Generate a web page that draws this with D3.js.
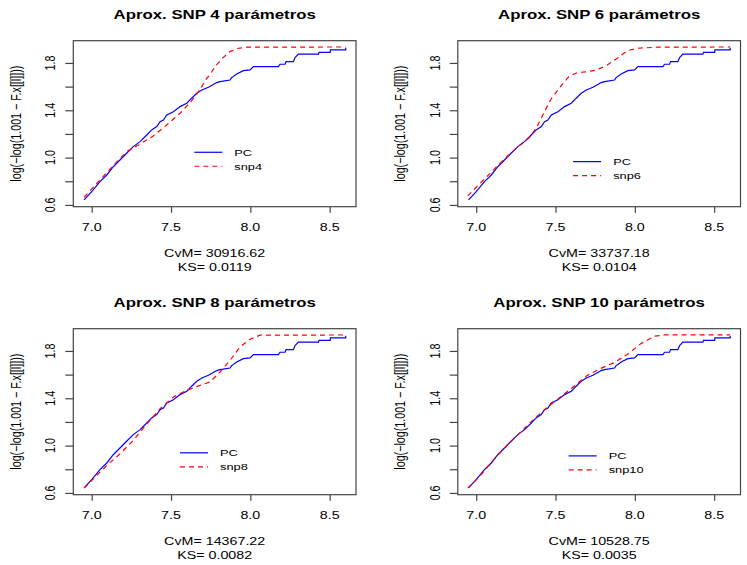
<!DOCTYPE html>
<html>
<head>
<meta charset="utf-8">
<script src="https://cdn.jsdelivr.net/npm/d3@7"></script>
<style>
  html, body { margin: 0; padding: 0; background: #fff; }
  svg text { font-family: "Liberation Sans", Arial, Helvetica, sans-serif; fill: #000; }
</style>
</head>
<body>
<svg id="chart" width="747" height="565"></svg>
<script>
// Empirical curve (PC), shared by all four panels: [x, log(-log(1.001 - F))]
const pcCurve = [
  [6.952, 0.642], [7.000, 0.712], [7.052, 0.797], [7.095, 0.853], [7.136, 0.923],
  [7.178, 0.980], [7.220, 1.037], [7.262, 1.093], [7.305, 1.135], [7.347, 1.191],
  [7.378, 1.234], [7.410, 1.262], [7.431, 1.304], [7.452, 1.318], [7.473, 1.360],
  [7.515, 1.388], [7.557, 1.431], [7.599, 1.459], [7.630, 1.502], [7.662, 1.544],
  [7.694, 1.572], [7.736, 1.595], [7.788, 1.634], [7.809, 1.642], [7.872, 1.656],
  [7.882, 1.676], [7.914, 1.707], [7.956, 1.735], [7.998, 1.741], [8.019, 1.769],
  [8.177, 1.769], [8.187, 1.789], [8.219, 1.789], [8.225, 1.811], [8.271, 1.811],
  [8.282, 1.845], [8.303, 1.874], [8.429, 1.874], [8.433, 1.890], [8.503, 1.890],
  [8.505, 1.910], [8.601, 1.910], [8.601, 1.929]
];

// SNP approximations with 4, 6, 8 and 10 parameters
const snp4Curve = [
  [6.952, 0.665], [7.052, 0.811], [7.136, 0.932], [7.220, 1.050], [7.305, 1.115],
  [7.388, 1.183], [7.473, 1.276], [7.557, 1.375], [7.620, 1.465], [7.683, 1.575],
  [7.725, 1.671], [7.746, 1.699], [7.777, 1.769], [7.820, 1.835], [7.872, 1.896],
  [7.925, 1.924], [7.977, 1.933], [8.600, 1.935]
];
const snp6Curve = [
  [6.947, 0.676], [7.025, 0.783], [7.109, 0.896], [7.193, 1.008], [7.278, 1.107],
  [7.341, 1.177], [7.383, 1.261], [7.425, 1.375], [7.468, 1.487], [7.531, 1.600],
  [7.583, 1.684], [7.636, 1.718], [7.699, 1.726], [7.762, 1.741], [7.826, 1.783],
  [7.889, 1.840], [7.952, 1.904], [8.015, 1.924], [8.140, 1.933], [8.600, 1.935]
];
const snp8Curve = [
  [6.952, 0.640], [7.010, 0.719], [7.095, 0.832], [7.178, 0.930], [7.262, 1.044],
  [7.347, 1.184], [7.431, 1.311], [7.515, 1.410], [7.599, 1.467], [7.683, 1.509],
  [7.746, 1.538], [7.809, 1.622], [7.872, 1.721], [7.935, 1.834], [7.998, 1.899],
  [8.061, 1.933], [8.600, 1.935]
];
const snp10Curve = [
  [6.947, 0.640], [7.025, 0.745], [7.109, 0.880], [7.193, 1.000], [7.278, 1.112],
  [7.362, 1.222], [7.446, 1.322], [7.531, 1.410], [7.615, 1.500], [7.699, 1.592],
  [7.784, 1.652], [7.868, 1.700], [7.952, 1.770], [8.037, 1.860], [8.121, 1.924],
  [8.185, 1.935], [8.600, 1.935]
];

const panelTitles = ["Aprox. SNP 4 parámetros", "Aprox. SNP 6 parámetros",
                     "Aprox. SNP 8 parámetros", "Aprox. SNP 10 parámetros"];
const seriesNames = ["snp4", "snp6", "snp8", "snp10"];
const cvmValues = ["30916.62", "33737.18", "14367.22", "10528.75"];
const ksValues = ["0.0119", "0.0104", "0.0082", "0.0035"];
const yAxisTitle = "log(\u2212log(1.001 \u2212 F.x[[l]]))";

const xTickValues = [7.0, 7.5, 8.0, 8.5];
const xTickLabels = ["7.0", "7.5", "8.0", "8.5"];
const yTickValues = [0.6, 0.8, 1.0, 1.2, 1.4, 1.6, 1.8];
const yTickLabels = ["0.6", "", "1.0", "", "1.4", "", "1.8"];

const snpCurves = [snp4Curve, snp6Curve, snp8Curve, snp10Curve];

// ---- layout ----
const SX = 1.334;               // horizontal stretch of the device
const panelOrigins = [[0, 0], [384.5, 0], [0, 288], [384.5, 288]];
const box = { left: 73.3, top: 40.7, width: 282.7, height: 166 };
const legendAt = [[7.647, 1.045], [7.611, 0.966], [7.557, 0.939], [7.583, 0.913]];
const FS = 10.7, TITLE_FS = 12.6, LEGEND_FS = 9.6;

const svg = d3.select("#chart");

function stretchedText(g, x, y, str, opts = {}) {
  const rot = opts.rotate ? " rotate(-90)" : "";
  return g.append("text")
    .attr("transform", `translate(${x},${y}) scale(${SX},1)${rot}`)
    .attr("text-anchor", opts.anchor || "middle")
    .attr("font-size", opts.size || FS)
    .attr("font-weight", opts.bold ? "bold" : "normal")
    .attr("dominant-baseline", opts.baseline || "alphabetic")
    .text(str);
}

panelTitles.forEach((title, i) => {
  const [ox, oy] = panelOrigins[i];
  const g = svg.append("g").attr("transform", `translate(${ox},${oy})`);

  const x = d3.scaleLinear().domain([6.884, 8.666])
    .range([box.left, box.left + box.width]);
  const y = d3.scaleLinear().domain([0.585, 1.988])
    .range([box.top + box.height, box.top]);

  // tick marks
  const xAxis = g.append("g")
    .attr("transform", `translate(0,${box.top + box.height})`)
    .call(d3.axisBottom(x).tickValues(xTickValues).tickSize(6).tickFormat(""));
  const yAxis = g.append("g")
    .attr("transform", `translate(${box.left},0)`)
    .call(d3.axisLeft(y).tickValues(yTickValues).tickSize(8).tickFormat(""));
  [xAxis, yAxis].forEach(a => {
    a.select(".domain").remove();
    a.selectAll(".tick line").attr("stroke", "#444").attr("stroke-width", 1.2);
  });

  // tick labels
  xTickValues.forEach((v, k) =>
    stretchedText(g, x(v), 230.7, xTickLabels[k]));
  yTickValues.forEach((v, k) => {
    if (yTickLabels[k]) stretchedText(g, 55, y(v), yTickLabels[k], { rotate: true });
  });

  // axis title and statistics
  stretchedText(g, 20.5, box.top + box.height / 2, yAxisTitle, { rotate: true });
  const cx = box.left + box.width / 2;
  stretchedText(g, cx, 256.7, "CvM= " + cvmValues[i]);
  stretchedText(g, cx, 270.7, "KS= " + ksValues[i]);
  stretchedText(g, cx, 19, title, { bold: true, size: TITLE_FS });

  // curves
  const line = d3.line().x(d => x(d[0])).y(d => y(d[1]));
  g.append("path").datum(pcCurve)
    .attr("d", line).attr("fill", "none")
    .attr("stroke", "#0000ff").attr("stroke-width", 1.2);
  g.append("path").datum(snpCurves[i])
    .attr("d", line).attr("fill", "none")
    .attr("stroke", "#ff0000").attr("stroke-width", 1.2)
    .attr("stroke-dasharray", "5,4");

  // frame
  g.append("rect")
    .attr("x", box.left).attr("y", box.top)
    .attr("width", box.width).attr("height", box.height)
    .attr("fill", "none").attr("stroke", "#444").attr("stroke-width", 1.2);

  // legend
  const lx = x(legendAt[i][0]), ly = y(legendAt[i][1]);
  const rows = [
    { name: "PC", color: "#0000ff", dash: null },
    { name: seriesNames[i], color: "#ff0000", dash: "5,4" }
  ];
  rows.forEach((r, k) => {
    const yy = ly + k * 14;
    g.append("line")
      .attr("x1", lx).attr("x2", lx + 28).attr("y1", yy).attr("y2", yy)
      .attr("stroke", r.color).attr("stroke-width", 1.2)
      .attr("stroke-dasharray", r.dash);
    stretchedText(g, lx + 40, yy, r.name,
      { anchor: "start", baseline: "central", size: LEGEND_FS });
  });
});
</script>
</body>
</html>
